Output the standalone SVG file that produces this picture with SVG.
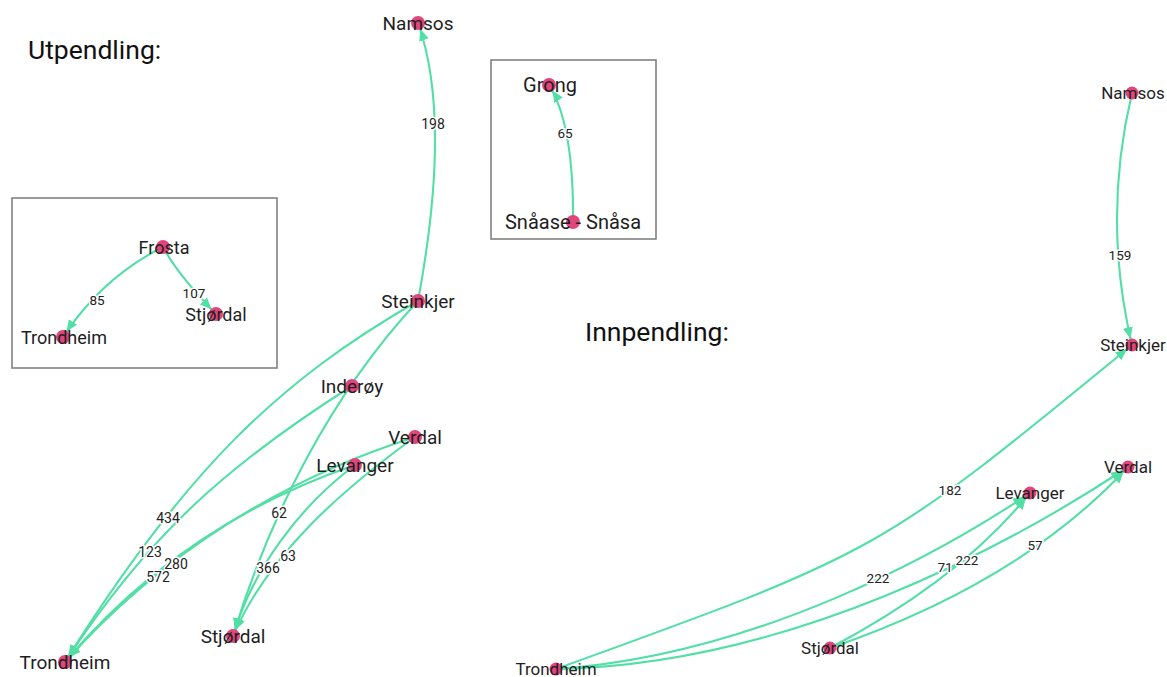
<svg xmlns="http://www.w3.org/2000/svg" width="1167" height="677" viewBox="0 0 1167 677">
<defs>
<marker id="arr" markerUnits="userSpaceOnUse" markerWidth="20" markerHeight="12" viewBox="0 0 20 12" refX="18" refY="6" orient="auto">
<path d="M0,1 L11.5,6 L0,11 z" fill="#52dfa6"/>
</marker>
<style>
.e{fill:none;stroke:#52dfa6;stroke-width:2.1;marker-end:url(#arr)}
.el{font-family:Roboto,"Liberation Sans",sans-serif;font-size:14px;fill:#222;text-anchor:middle;stroke:#fff;stroke-width:3px;paint-order:stroke;stroke-linejoin:round}
.er{font-size:13.5px}
.dot{fill:#e0457b}
.nl{font-family:Roboto,"Liberation Sans",sans-serif;fill:#1e1e1e;text-anchor:middle}
.big{font-size:19px}
.mid{font-size:18px}
.lg{font-size:20px}
.sm{font-size:17px}
.title{font-family:Roboto,"Liberation Sans",sans-serif;font-size:26.5px;fill:#111}
.box{fill:none;stroke:#7a7a7a;stroke-width:1.5}
</style>
</defs>
<rect width="1167" height="677" fill="#fff"/>
<text class="title" x="28" y="59">Utpendling:</text>
<text class="title" x="585" y="341">Innpendling:</text>
<rect class="box" x="12" y="198" width="265" height="170"/>
<rect class="box" x="491" y="60" width="165" height="179"/>
<g id="connectors">
<path class="e" d="M418,301 Q452,118 418,23"/>
<path class="e" d="M418,301 C280,380 185,470 65,662"/>
<path class="e" d="M352,386 C222,468 145,540 65,662"/>
<path class="e" d="M418,301 C330,395 268,520 233,636"/>
<path class="e" d="M355,465 C299,507 253,569 233,636"/>
<path class="e" d="M415,437 C342,490 269,553 233,636"/>
<path class="e" d="M355,465 Q180,525 65,662"/>
<path class="e" d="M415,437 C280,480 160,555 65,662"/>
<path class="e" d="M163,247 Q102.6,277.2 63,337"/>
<path class="e" d="M163,247 Q178,275 216,314"/>
<path class="e" d="M573,222 Q574,125 549,85"/>
<path class="e" d="M1132,93 Q1102,219 1132,345"/>
<path class="e" d="M556,669 C880,552 880,552 1132,345"/>
<path class="e" d="M556,669 C760,655 945,550 1030,493"/>
<path class="e" d="M556,669 C790,665 1010,545 1128,467"/>
<path class="e" d="M830,648 Q960,579.5 1030,493"/>
<path class="e" d="M830,648 Q1021,582.5 1128,467"/>
<text class="el" x="433" y="129">198</text>
<text class="el" x="168" y="523">434</text>
<text class="el" x="150" y="557">123</text>
<text class="el" x="176" y="569">280</text>
<text class="el" x="158" y="582">572</text>
<text class="el" x="279" y="518">62</text>
<text class="el" x="268" y="573">366</text>
<text class="el" x="288" y="561">63</text>
<text class="el er" x="97" y="305">85</text>
<text class="el er" x="194" y="298">107</text>
<text class="el er" x="565" y="138">65</text>
<text class="el er" x="1120" y="260">159</text>
<text class="el er" x="950" y="495">182</text>
<text class="el er" x="878" y="583">222</text>
<text class="el er" x="945" y="572">71</text>
<text class="el er" x="967" y="565">222</text>
<text class="el er" x="1035" y="550">57</text>
</g>
<g id="u-namsos"><circle class="dot" cx="418" cy="23" r="7"/><text class="nl big" x="418" y="30">Namsos</text></g>
<g id="u-steinkjer"><circle class="dot" cx="418" cy="301" r="7"/><text class="nl big" x="418" y="308">Steinkjer</text></g>
<g id="u-inderoy"><circle class="dot" cx="352" cy="386" r="7"/><text class="nl big" x="352" y="393">Inderøy</text></g>
<g id="u-verdal"><circle class="dot" cx="415" cy="437" r="7"/><text class="nl big" x="415" y="444">Verdal</text></g>
<g id="u-levanger"><circle class="dot" cx="355" cy="465" r="7"/><text class="nl big" x="355" y="472">Levanger</text></g>
<g id="u-stjordal"><circle class="dot" cx="233" cy="636" r="7"/><text class="nl big" x="233" y="643">Stjørdal</text></g>
<g id="u-trondheim"><circle class="dot" cx="65" cy="662" r="7"/><text class="nl big" x="65" y="669">Trondheim</text></g>
<g id="f-frosta"><circle class="dot" cx="163" cy="247" r="7"/><text class="nl mid" x="164" y="254">Frosta</text></g>
<g id="f-trondheim"><circle class="dot" cx="63" cy="337" r="7"/><text class="nl mid" x="64" y="344">Trondheim</text></g>
<g id="f-stjordal"><circle class="dot" cx="216" cy="314" r="7"/><text class="nl mid" x="216" y="321">Stjørdal</text></g>
<g id="s-grong"><circle class="dot" cx="549" cy="85" r="7"/><text class="nl lg" x="550" y="92">Grong</text></g>
<g id="s-snasa"><circle class="dot" cx="573" cy="222" r="7"/><text class="nl lg" x="573" y="229">Snåase - Snåsa</text></g>
<g id="i-namsos"><circle class="dot" cx="1132" cy="93" r="6.5"/><text class="nl sm" x="1133" y="99">Namsos</text></g>
<g id="i-steinkjer"><circle class="dot" cx="1132" cy="345" r="6.5"/><text class="nl sm" x="1133" y="351">Steinkjer</text></g>
<g id="i-verdal"><circle class="dot" cx="1128" cy="467" r="6.5"/><text class="nl sm" x="1128" y="473">Verdal</text></g>
<g id="i-levanger"><circle class="dot" cx="1030" cy="493" r="6.5"/><text class="nl sm" x="1030" y="499">Levanger</text></g>
<g id="i-stjordal"><circle class="dot" cx="830" cy="648" r="6.5"/><text class="nl sm" x="830" y="654">Stjørdal</text></g>
<g id="i-trondheim"><circle class="dot" cx="556" cy="669" r="6.5"/><text class="nl sm" x="556" y="675">Trondheim</text></g>
</svg>
